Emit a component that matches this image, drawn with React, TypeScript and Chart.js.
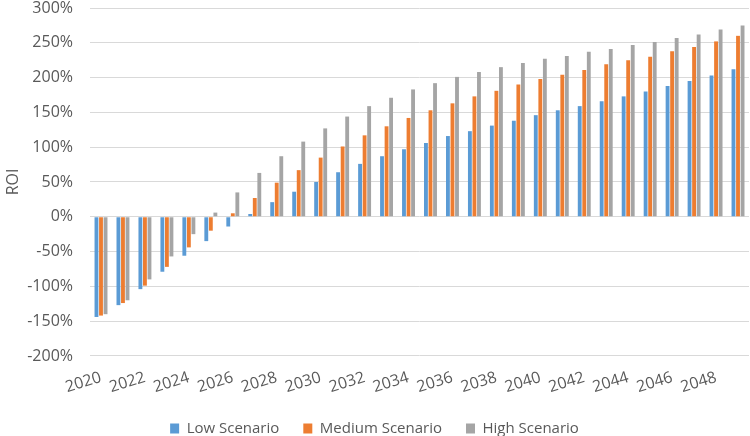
import React, { useEffect, useRef } from "react";
import { Chart, registerables } from "chart.js";

Chart.register(...registerables);

const years = [
  "2020", "2021", "2022", "2023", "2024", "2025", "2026", "2027", "2028", "2029",
  "2030", "2031", "2032", "2033", "2034", "2035", "2036", "2037", "2038", "2039",
  "2040", "2041", "2042", "2043", "2044", "2045", "2046", "2047", "2048", "2049",
];

const lowScenario = [
  -144, -127, -104, -79, -56, -35, -14, 4, 21, 36,
  50, 64, 76, 87, 97, 106, 116, 123, 131, 138,
  146, 153, 159, 166, 173, 180, 188, 195, 203, 212,
];
const mediumScenario = [
  -142, -124, -99, -72, -44, -20, 5, 27, 49, 67,
  85, 101, 117, 130, 142, 153, 163, 173, 181, 190,
  198, 204, 211, 219, 225, 230, 238, 244, 252, 260,
];
const highScenario = [
  -140, -120, -90, -57, -25, 6, 35, 63, 87, 108,
  127, 144, 159, 171, 183, 192, 201, 208, 215, 221,
  227, 231, 237, 241, 247, 251, 257, 262, 269, 275,
];

const seriesNames = ["Low Scenario", "Medium Scenario", "High Scenario"];
const seriesColors = ["#5B9BD5", "#ED7D31", "#A5A5A5"];

export default function App() {
  const canvasRef = useRef<HTMLCanvasElement | null>(null);

  useEffect(() => {
    const font = "Open Sans, Liberation Sans, sans-serif";
    const chart = new Chart(canvasRef.current as HTMLCanvasElement, {
      type: "bar",
      data: {
        labels: years,
        datasets: [lowScenario, mediumScenario, highScenario].map((d, i) => ({
          label: seriesNames[i],
          data: d,
          backgroundColor: seriesColors[i],
          borderWidth: 0,
          categoryPercentage: 0.62,
          barPercentage: 0.85,
        })),
      },
      options: {
        animation: false,
        responsive: false,
        layout: { padding: { left: 0, right: 1, top: 0, bottom: -10 } },
        plugins: {
          legend: {
            position: "bottom",
            labels: {
              boxWidth: 9,
              boxHeight: 10,
              padding: 24,
              color: "#595959",
              font: { family: font, size: 15 },
            },
          },
          tooltip: { enabled: false },
        },
        scales: {
          x: {
            grid: { display: false, drawTicks: true, tickLength: 12 },
            border: { display: false },
            ticks: {
              autoSkip: false,
              minRotation: 17,
              maxRotation: 17,
              padding: 0,
              color: "#595959",
              font: { family: font, size: 16 },
              callback: (_v: any, i: number) => (i % 2 === 0 ? years[i] : ""),
            },
          },
          y: {
            min: -200,
            max: 300,
            title: {
              display: true,
              text: "ROI",
              color: "#595959",
              font: { family: font, size: 16 },
            },
            grid: { color: "#D9D9D9", drawTicks: true, tickLength: 17, tickColor: "rgba(0,0,0,0)" },
            border: { display: false },
            ticks: {
              stepSize: 50,
              padding: 0,
              color: "#595959",
              font: { family: font, size: 16, lineHeight: 1 },
              callback: (v: any) => v + "%",
            },
          },
        },
      },
    });
    return () => chart.destroy();
  }, []);

  return (
    <div style={{ position: "fixed", left: 0, top: 0, width: 750, height: 436, background: "#fff" }}>
      <canvas ref={canvasRef} width={750} height={436} />
    </div>
  );
}
